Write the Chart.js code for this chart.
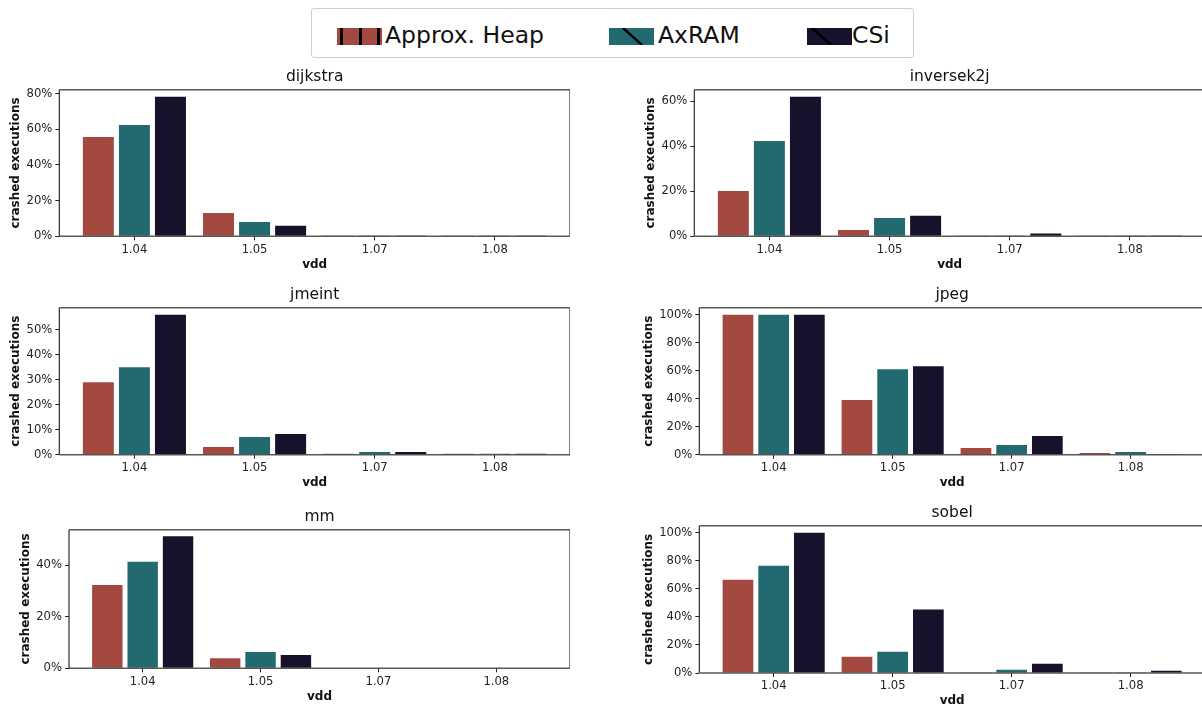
<!DOCTYPE html>
<html>
<head>
<meta charset="utf-8">
<script src="https://cdn.jsdelivr.net/npm/chart.js@4/dist/chart.umd.min.js"></script>
<style>
  html, body { margin: 0; padding: 0; background: #fff; }
  body { width: 1202px; height: 706px; overflow: hidden; position: relative; font-family: "DejaVu Sans", sans-serif; }
  #legend { position: absolute; left: 311px; top: 8px; width: 601px; height: 48px; border: 1px solid #cfcfcf; border-radius: 3px; }
  .sw { position: absolute; }
  .lt { position: absolute; font-size: 23.5px; line-height: 23.5px; color: #111; white-space: nowrap; }
</style>
</head>
<body>
<div id="legend"></div>
<script>
// ---- data ----------------------------------------------------------------
const vdd = ['1.04', '1.05', '1.07', '1.08'];
const seriesNames = ['Approx. Heap', 'AxRAM', 'CSi'];
const benchmarks = ['dijkstra', 'inversek2j', 'jmeint', 'jpeg', 'mm', 'sobel'];

// crashed executions, percent, one value per vdd level
const dijkstraHeap  = [55.7, 13.1, 0.5, 0.5];
const dijkstraAxram = [62.4, 8.0, 0.4, 0.4];
const dijkstraCsi   = [78.3, 5.9, 0.4, 0.4];

const inversek2jHeap  = [20.1, 2.8, 0.4, 0.4];
const inversek2jAxram = [42.3, 8.1, 0.4, 0.4];
const inversek2jCsi   = [62.0, 9.1, 1.2, 0.4];

const jmeintHeap  = [29.0, 3.1, 0.4, 0.4];
const jmeintAxram = [35.0, 7.1, 1.1, 0.4];
const jmeintCsi   = [56.1, 8.3, 1.1, 0.4];

const jpegHeap  = [100, 39.0, 4.8, 1.2];
const jpegAxram = [100, 61.0, 6.9, 1.9];
const jpegCsi   = [100, 63.2, 13.3, 0.5];

const mmHeap  = [32.3, 3.9, 0.2, 0.2];
const mmAxram = [41.3, 6.3, 0.2, 0.2];
const mmCsi   = [51.2, 5.2, 0.2, 0.2];

const sobelHeap  = [66.4, 11.6, 0.5, 0.5];
const sobelAxram = [76.4, 15.2, 2.3, 0.5];
const sobelCsi   = [100, 45.2, 6.6, 1.6];

// y tick values (percent) for each panel
const dijkstraTicks   = [0, 20, 40, 60, 80];
const inversek2jTicks = [0, 20, 40, 60];
const jmeintTicks     = [0, 10, 20, 30, 40, 50];
const jpegTicks       = [0, 20, 40, 60, 80, 100];
const mmTicks         = [0, 20, 40];
const sobelTicks      = [0, 20, 40, 60, 80, 100];

const panelValues = [
  [dijkstraHeap, dijkstraAxram, dijkstraCsi],
  [inversek2jHeap, inversek2jAxram, inversek2jCsi],
  [jmeintHeap, jmeintAxram, jmeintCsi],
  [jpegHeap, jpegAxram, jpegCsi],
  [mmHeap, mmAxram, mmCsi],
  [sobelHeap, sobelAxram, sobelCsi]
];
const panelTicks = [dijkstraTicks, inversek2jTicks, jmeintTicks, jpegTicks, mmTicks, sobelTicks];

// ---- styling / layout ----------------------------------------------------
const colors = ['#a4493f', '#236a70', '#17112b'];
const FONT = '"DejaVu Sans", sans-serif';
const TITLE_H = 24;
const XAXIS_H = 36;

// plot-area rectangle of every panel (page pixels) and y-label centre
const layout = [
  { col: 0,   left: 59.3,  right: 569.3, top: 89.7,  bottom: 236.3, ylabelX: 16.3 },
  { col: 600, left: 694.3, right: 1205,  top: 89.7,  bottom: 236.3, ylabelX: 651.2 },
  { col: 0,   left: 59.3,  right: 569.3, top: 307.7, bottom: 454.7, ylabelX: 16.3 },
  { col: 600, left: 699.3, right: 1205,  top: 307.7, bottom: 454.7, ylabelX: 649.0 },
  { col: 0,   left: 69.0,  right: 569.3, top: 529.7, bottom: 668.3, ylabelX: 25.7 },
  { col: 600, left: 699.3, right: 1205,  top: 525.7, bottom: 673.0, ylabelX: 649.3 }
];

// axes frame drawn over the bars (matplotlib-like spines)
const framePlugin = {
  id: 'frame',
  afterDatasetsDraw(chart) {
    const { ctx, chartArea: a } = chart;
    ctx.save();
    ctx.strokeStyle = '#1a1a1a';
    ctx.lineWidth = 1.1;
    ctx.beginPath();
    ctx.moveTo(a.left, a.top); ctx.lineTo(a.left, a.bottom);
    ctx.moveTo(a.right, a.top); ctx.lineTo(a.right, a.bottom);
    ctx.stroke();
    ctx.strokeStyle = 'rgba(60,60,60,0.85)';
    ctx.lineWidth = 1.6;
    ctx.beginPath();
    ctx.moveTo(a.left, a.top); ctx.lineTo(a.right, a.top);
    ctx.moveTo(a.left, a.bottom); ctx.lineTo(a.right, a.bottom);
    ctx.stroke();
    ctx.restore();
  }
};

function makePanel(idx) {
  const p = layout[idx];
  const values = panelValues[idx];
  const ticks = panelTicks[idx];
  const cLeft = p.col;
  const cTop = Math.round(p.top) - TITLE_H;
  const topH = p.top - cTop;
  const w = Math.ceil(p.right - cLeft);
  const h = Math.ceil(p.bottom + XAXIS_H - cTop);
  const xH = h - (p.bottom - cTop);
  const yW = p.left - cLeft;

  const cv = document.createElement('canvas');
  cv.width = w; cv.height = h;
  cv.style.cssText = `position:absolute;left:${cLeft}px;top:${cTop}px;width:${w}px;height:${h}px;`;
  document.body.appendChild(cv);

  const peak = Math.max(...values.flat());

  new Chart(cv, {
    type: 'bar',
    data: {
      datasets: seriesNames.map((name, k) => ({
        label: name,
        data: values[k].map((v, i) => ({ x: i, y: v })),
        backgroundColor: colors[k],
        borderWidth: 0,
        xAxisID: 'x',
        yAxisID: 'y'
      }))
    },
    options: {
      responsive: false,
      animation: false,
      devicePixelRatio: 1,
      layout: { padding: 0 },
      datasets: { bar: { categoryPercentage: 0.9, barPercentage: 0.86 } },
      plugins: { legend: { display: false }, tooltip: { enabled: false }, title: { display: false } },
      scales: {
        x: {
          type: 'linear', axis: 'x', position: 'bottom',
          min: -0.625, max: 3.625, bounds: 'data', offset: false,
          afterBuildTicks: ax => { ax.ticks = vdd.map((_, i) => ({ value: i })); },
          afterFit: ax => { ax.height = xH; },
          ticks: {
            callback: v => vdd[v], autoSkip: false, maxRotation: 0,
            font: { family: FONT, size: 11.6 }, color: '#222', padding: 2.5
          },
          grid: { display: true, offset: false, drawOnChartArea: false, drawTicks: true, tickLength: 4, color: '#222', lineWidth: 1 },
          border: { display: false },
          title: {
            display: true, text: 'vdd', color: '#111',
            font: { family: FONT, size: 12, weight: 'bold' },
            padding: { top: 0, bottom: 1.3 }
          }
        },
        y: {
          type: 'linear', axis: 'y', position: 'left',
          min: 0, max: peak * 1.05, bounds: 'data',
          afterBuildTicks: ax => { ax.ticks = ticks.map(v => ({ value: v })); },
          afterFit: ax => { ax.width = yW; },
          ticks: {
            callback: v => v + '%',
            font: { family: FONT, size: 11.6 }, color: '#222', padding: 3
          },
          grid: { display: true, drawOnChartArea: false, drawTicks: true, tickLength: 4, color: '#222', lineWidth: 1 },
          border: { display: false },
          title: {
            display: true, text: 'crashed executions', color: '#111',
            font: { family: FONT, size: 12, weight: 'bold' },
            padding: { top: p.ylabelX - cLeft - 7.2, bottom: 0 }
          }
        },
        head: {
          type: 'linear', axis: 'x', position: 'top',
          afterFit: ax => { ax.height = topH; },
          ticks: { display: false },
          grid: { display: false },
          border: { display: false },
          title: {
            display: true, text: benchmarks[idx], color: '#111',
            font: { family: FONT, size: 15.5 },
            padding: { top: 1.8, bottom: 0 }
          }
        }
      }
    },
    plugins: [framePlugin]
  });
}

benchmarks.forEach((_, i) => makePanel(i));

// ---- legend ---------------------------------------------------------------
const legendItems = [
  { swatchX: 337, textX: 385, hatch: 'vertical', offset: 3 },
  { swatchX: 609, textX: 658, hatch: 'diagonal', offset: 14 },
  { swatchX: 807, textX: 852, hatch: 'diagonal', offset: 5 }
];
legendItems.forEach((it, k) => {
  const sw = document.createElement('canvas');
  sw.className = 'sw';
  sw.width = 45; sw.height = 17;
  sw.style.left = it.swatchX + 'px';
  sw.style.top = '28px';
  document.body.appendChild(sw);
  const g = sw.getContext('2d');
  g.fillStyle = colors[k];
  g.fillRect(0, 0, 45, 17);
  g.fillStyle = '#000';
  g.strokeStyle = '#000';
  if (it.hatch === 'vertical') {
    for (let x = it.offset; x < 45; x += 18.5) g.fillRect(Math.round(x), 0, 3, 17);
  } else {
    g.lineWidth = 2.4;
    g.beginPath();
    g.moveTo(it.offset, 0);
    g.lineTo(it.offset + 19, 17);
    g.stroke();
  }
  const t = document.createElement('span');
  t.className = 'lt';
  t.textContent = seriesNames[k];
  t.style.left = it.textX + 'px';
  t.style.top = '23.6px';
  document.body.appendChild(t);
});
</script>
</body>
</html>
